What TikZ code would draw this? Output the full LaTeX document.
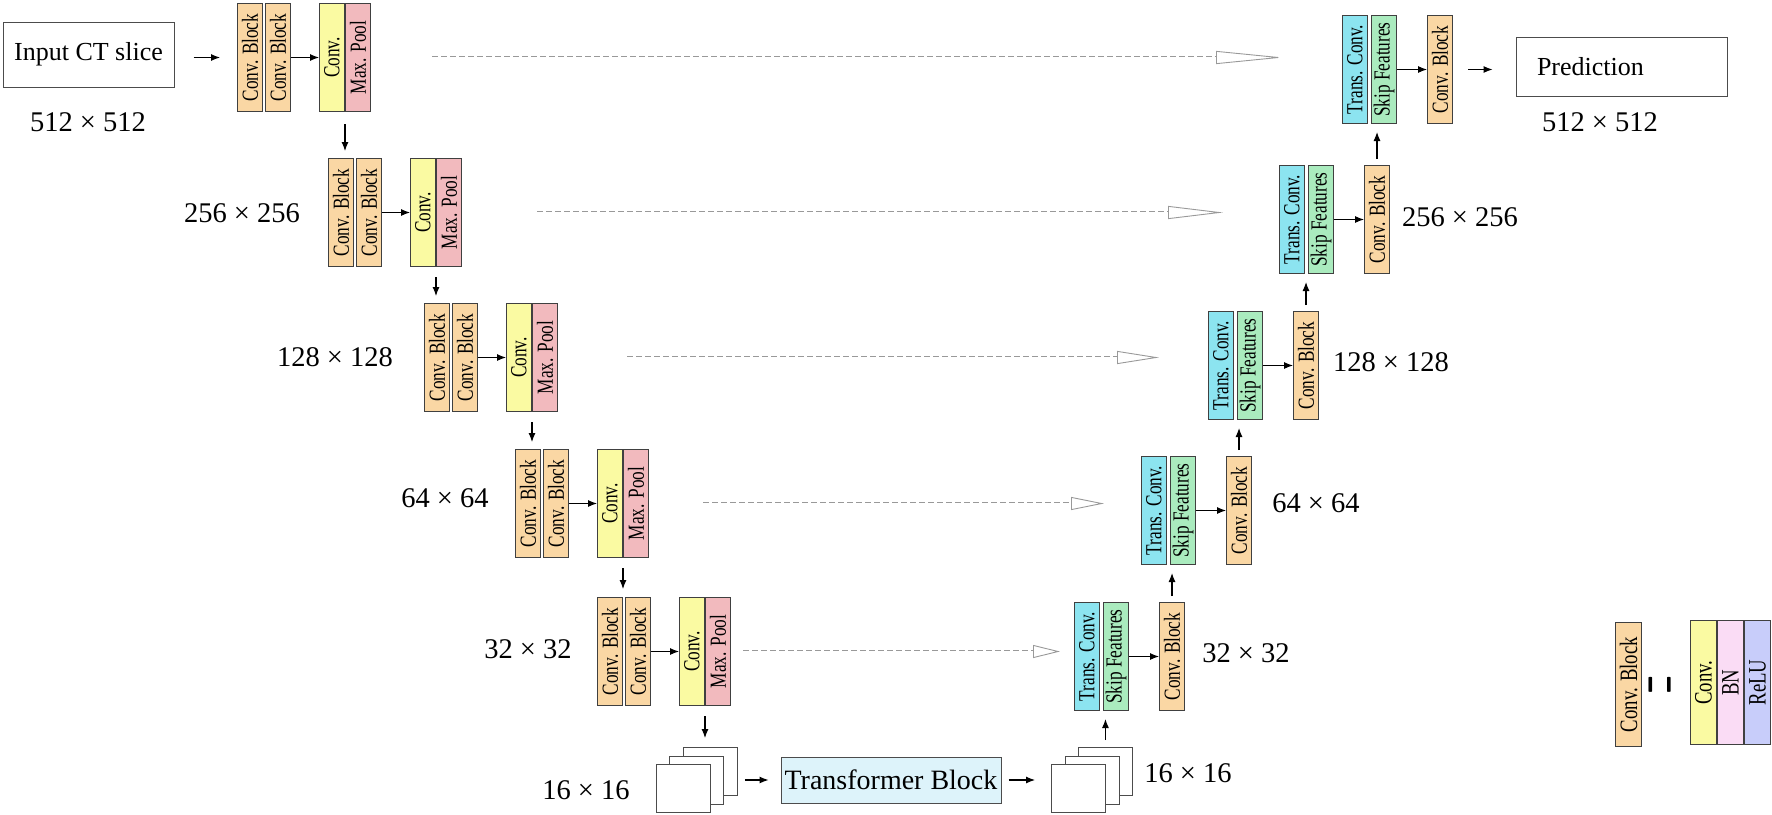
\documentclass[tikz,border=0pt]{standalone}
\usepackage{fontspec}
\setmainfont{Liberation Serif}
\newfontfamily\condfont[FakeStretch=0.75]{Liberation Serif}
\usepackage{graphicx}
\usepackage{xcolor}
\usepackage{tikz}
\usetikzlibrary{arrows.meta, positioning}

\definecolor{cbfill}{HTML}{FAD7A4}
\definecolor{cvfill}{HTML}{FAFAA2}
\definecolor{mpfill}{HTML}{F2BABE}
\definecolor{tcfill}{HTML}{8CE4F0}
\definecolor{skfill}{HTML}{AAEBBE}
\definecolor{bnfill}{HTML}{FADCF5}
\definecolor{rlfill}{HTML}{C8CDFA}
\definecolor{trfill}{HTML}{DDF3FA}

\newcommand{\vlabel}[1]{\rotatebox{90}{#1}}

\begin{document}
\begin{tikzpicture}[x=1pt, y=-1pt,
  blk/.style={
    rectangle, draw=black!75, fill=#1, line width=1pt,
    minimum width=25pt, minimum height=108pt, inner sep=0pt,
    font=\condfont\fontsize{23}{25}\selectfont
  },
  blk/.default={cbfill},
  lblk/.style={blk=#1, minimum width=26pt, minimum height=124pt,
    font=\condfont\fontsize{25}{27}\selectfont},
  iobox/.style={rectangle, draw=black!70, line width=1pt,
    font=\fontsize{26}{28}\selectfont, inner sep=0pt},
  sq/.style={rectangle, draw=black!70, fill=white, line width=0.9pt,
    minimum width=54pt, minimum height=48pt, inner sep=0pt},
  dim/.style={font=\fontsize{28.5}{30}\selectfont, inner sep=0pt},
  arr/.style={-{Latex[length=9pt, width=7pt]}, line width=1.1pt},
  skiparr/.style={draw=black!40, dash pattern=on 6pt off 3pt, double=white,
    double distance=2pt, line width=0.9pt,
    -{Triangle[open, length=#1, width=13pt]}}
]
\useasboundingbox (0,0) rectangle (1772,814);

% === Input ===
\node[iobox, minimum width=171pt, minimum height=65pt] (in) at (88.5,54.5) {Input CT slice};
\node[dim] (d0l) at (88,122) {512 × 512};

% === Encoder, 512 ===
\node[blk, anchor=north west] (cb0a) at (237,3) {\vlabel{Conv. Block}};
\node[blk, right=2pt of cb0a] (cb0b) {\vlabel{Conv. Block}};
\node[blk=cvfill, right=28pt of cb0b] (cv0) {\vlabel{Conv.}};
\node[blk=mpfill, right=0pt of cv0] (mp0) {\vlabel{Max. Pool}};

% === Encoder, 256 ===
\node[dim] (d1l) at (242,213) {256 × 256};
\node[blk, anchor=north west] (cb1a) at (328,158) {\vlabel{Conv. Block}};
\node[blk, right=2pt of cb1a] (cb1b) {\vlabel{Conv. Block}};
\node[blk=cvfill, right=28pt of cb1b] (cv1) {\vlabel{Conv.}};
\node[blk=mpfill, right=0pt of cv1] (mp1) {\vlabel{Max. Pool}};

% === Encoder, 128 ===
\node[dim] (d2l) at (335,357) {128 × 128};
\node[blk, anchor=north west] (cb2a) at (424,303) {\vlabel{Conv. Block}};
\node[blk, right=2pt of cb2a] (cb2b) {\vlabel{Conv. Block}};
\node[blk=cvfill, right=28pt of cb2b] (cv2) {\vlabel{Conv.}};
\node[blk=mpfill, right=0pt of cv2] (mp2) {\vlabel{Max. Pool}};

% === Encoder, 64 ===
\node[dim] (d3l) at (445,498) {64 × 64};
\node[blk, anchor=north west] (cb3a) at (515,449) {\vlabel{Conv. Block}};
\node[blk, right=2pt of cb3a] (cb3b) {\vlabel{Conv. Block}};
\node[blk=cvfill, right=28pt of cb3b] (cv3) {\vlabel{Conv.}};
\node[blk=mpfill, right=0pt of cv3] (mp3) {\vlabel{Max. Pool}};

% === Encoder, 32 ===
\node[dim] (d4l) at (528,649) {32 × 32};
\node[blk, anchor=north west] (cb4a) at (597,597) {\vlabel{Conv. Block}};
\node[blk, right=2pt of cb4a] (cb4b) {\vlabel{Conv. Block}};
\node[blk=cvfill, right=28pt of cb4b] (cv4) {\vlabel{Conv.}};
\node[blk=mpfill, right=0pt of cv4] (mp4) {\vlabel{Max. Pool}};

% === Bottleneck, 16 ===
\node[dim] (d5l) at (586,790) {16 × 16};
\node[sq, anchor=north west] (sl1) at (683,747) {};
\node[sq, anchor=north west] (sl2) at (669,756) {};
\node[sq, anchor=north west] (sl3) at (656,764) {};
\node[iobox, fill=trfill, minimum width=220pt, minimum height=46pt,
      font=\fontsize{28}{30}\selectfont] (tb) at (891,780) {Transformer Block};
\node[sq, anchor=north west] (sr1) at (1078,747) {};
\node[sq, anchor=north west] (sr2) at (1065,756) {};
\node[sq, anchor=north west] (sr3) at (1051,764) {};
\node[dim] (d5r) at (1188,773) {16 × 16};

% === Decoder ===
\node[blk=tcfill, anchor=north west] (tc4) at (1074,602) {\vlabel{Trans. Conv.}};
\node[blk=skfill, right=3pt of tc4] (sk4) {\vlabel{Skip Features}};
\node[blk, right=30pt of sk4] (cr4) {\vlabel{Conv. Block}};
\node[dim] (d4r) at (1246,653) {32 × 32};

\node[blk=tcfill, anchor=north west] (tc3) at (1141,456) {\vlabel{Trans. Conv.}};
\node[blk=skfill, right=3pt of tc3] (sk3) {\vlabel{Skip Features}};
\node[blk, right=30pt of sk3] (cr3) {\vlabel{Conv. Block}};
\node[dim] (d3r) at (1316,503) {64 × 64};

\node[blk=tcfill, anchor=north west] (tc2) at (1208,311) {\vlabel{Trans. Conv.}};
\node[blk=skfill, right=3pt of tc2] (sk2) {\vlabel{Skip Features}};
\node[blk, right=30pt of sk2] (cr2) {\vlabel{Conv. Block}};
\node[dim] (d2r) at (1391,362) {128 × 128};

\node[blk=tcfill, anchor=north west] (tc1) at (1279,165) {\vlabel{Trans. Conv.}};
\node[blk=skfill, right=3pt of tc1] (sk1) {\vlabel{Skip Features}};
\node[blk, right=30pt of sk1] (cr1) {\vlabel{Conv. Block}};
\node[dim] (d1r) at (1460,217) {256 × 256};

\node[blk=tcfill, anchor=north west] (tc0) at (1342,15) {\vlabel{Trans. Conv.}};
\node[blk=skfill, right=3pt of tc0] (sk0) {\vlabel{Skip Features}};
\node[blk, right=30pt of sk0] (cr0) {\vlabel{Conv. Block}};

% === Output ===
\node[iobox, minimum width=211pt, minimum height=59pt, text width=169pt,
      inner xsep=21pt, align=left] (pr) at (1621.5,66.5) {Prediction};
\node[dim] (d0r) at (1600,122) {512 × 512};

% === Legend ===
\node[lblk=cbfill, anchor=north west] (lg0) at (1615,622) {\vlabel{Conv. Block}};
\node[inner sep=0pt, font=\usefont{TU}{lmr}{m}{n}\fontsize{40}{40}\selectfont] (eq) at (1667,685)
  {\rotatebox{90}{\scalebox{0.6}[2.6]{=}}};
\node[lblk=cvfill, anchor=north west] (lg1) at (1690,620) {\vlabel{Conv.}};
\node[lblk=bnfill, right=0pt of lg1] (lg2) {\vlabel{BN}};
\node[lblk=rlfill, right=0pt of lg2] (lg3) {\vlabel{ReLU}};

% === ARROWS ===
\draw[arr, shorten <=19pt, shorten >=17pt] (in.east |- cb0a.west) -- (cb0a.west);
\draw[arr] (cb0b) -- (cv0);
\draw[arr] (cb1b) -- (cv1);
\draw[arr] (cb2b) -- (cv2);
\draw[arr] (cb3b) -- (cv3);
\draw[arr] (cb4b) -- (cv4);
\draw[arr, shorten <=12pt, shorten >=7pt] (cv0.south east) -- (cv0.south east |- cb1a.north);
\draw[arr, shorten <=10pt, shorten >=7pt] (cv1.south east) -- (cv1.south east |- cb2a.north);
\draw[arr, shorten <=10pt, shorten >=7pt] (cv2.south east) -- (cv2.south east |- cb3a.north);
\draw[arr, shorten <=10pt, shorten >=8pt] (cv3.south east) -- (cv3.south east |- cb4a.north);
\draw[arr, shorten <=10pt, shorten >=9pt] (cv4.south east) -- (cv4.south east |- sl1.north);
\draw[arr, shorten <=7pt, shorten >=12pt] (sl1.east |- tb.west) -- (tb.west);
\draw[arr, shorten <=7pt, shorten >=16pt] (tb.east) -- (tb.east -| sr3.west);
\draw[arr, shorten <=7pt, shorten >=8pt] (sr1.north) -- (sr1.north |- tc4.south);
\draw[arr, shorten <=6pt, shorten >=8pt] (cr4.north) -- (cr4.north |- tc3.south);
\draw[arr, shorten <=6pt, shorten >=8pt] (cr3.north) -- (cr3.north |- tc2.south);
\draw[arr, shorten <=6pt, shorten >=8pt] (cr2.north) -- (cr2.north |- tc1.south);
\draw[arr, shorten <=6pt, shorten >=8pt] (cr1.north) -- (cr1.north |- tc0.south);
\draw[arr] (sk4) -- (cr4);
\draw[arr] (sk3) -- (cr3);
\draw[arr] (sk2) -- (cr2);
\draw[arr] (sk1) -- (cr1);
\draw[arr] (sk0) -- (cr0);
\draw[arr, shorten <=15pt, shorten >=23pt] (cr0.east) -- (cr0.east -| pr.west);

% === Skip connections ===
\draw[skiparr=67pt, shorten <=61pt, shorten >=59pt] (mp0.east) -- (mp0.east -| tc0.west);
\draw[skiparr=55pt, shorten <=75pt, shorten >=56pt] (mp1.east) -- (mp1.east -| tc1.west);
\draw[skiparr=42pt, shorten <=69pt, shorten >=49pt] (mp2.east) -- (mp2.east -| tc2.west);
\draw[skiparr=33pt, shorten <=54pt, shorten >=37pt] (mp3.east) -- (mp3.east -| tc3.west);
\draw[skiparr=27pt, shorten <=12pt, shorten >=14pt] (mp4.east) -- (mp4.east -| tc4.west);

\end{tikzpicture}
\end{document}
